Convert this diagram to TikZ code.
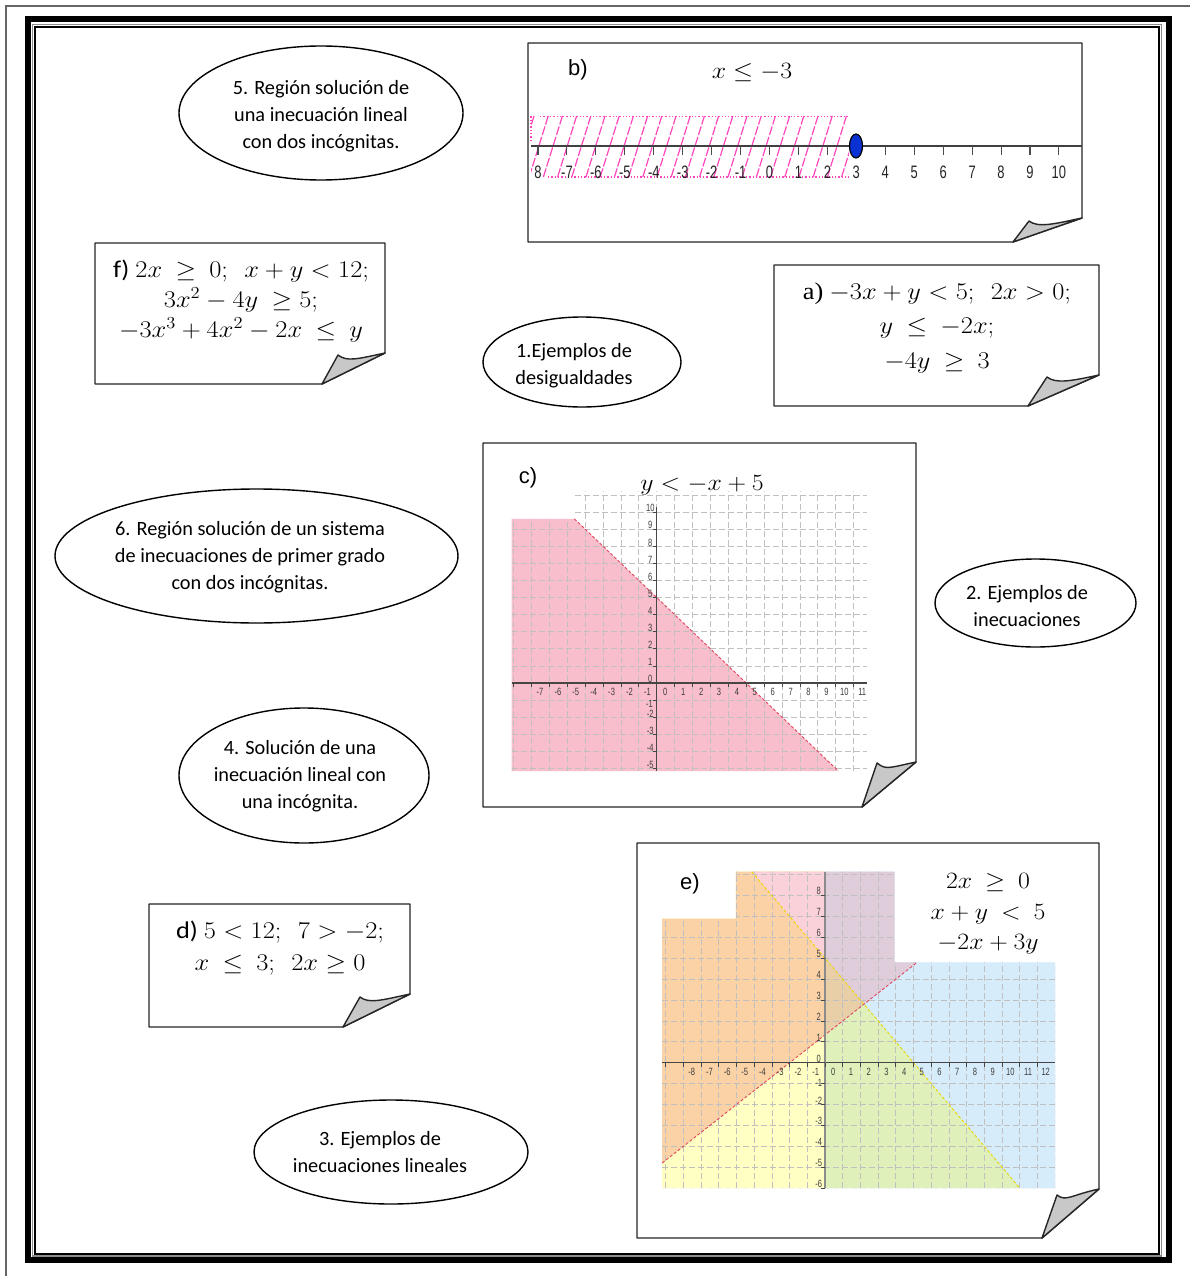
\RequirePackage{fix-cm}
\documentclass[tikz,border=0pt]{standalone}
\usepackage{graphicx}
\usepackage[no-math]{fontspec}
\setmainfont{Carlito}
\newfontfamily\arialf{Liberation Sans}
\newfontfamily\narrowf[FakeStretch=0.72]{Liberation Sans}
\newfontfamily\cambf{Liberation Serif}
\usetikzlibrary{shapes.geometric,calc}

\definecolor{pinkc}{RGB}{248,190,204}
\definecolor{redln}{RGB}{225,70,95}
\definecolor{gridc}{RGB}{192,192,192}
\definecolor{axisc}{RGB}{70,70,70}
\definecolor{labc}{RGB}{60,60,60}
\definecolor{hatchc}{RGB}{255,70,190}
\definecolor{dotblue}{RGB}{10,50,210}
\definecolor{foldgray}{RGB}{200,200,200}
\definecolor{pinkE}{RGB}{251,209,217}
\definecolor{orangeE}{RGB}{251,210,165}
\definecolor{yellowE}{RGB}{255,255,196}
\definecolor{mauveE}{RGB}{223,205,219}
\definecolor{blueE}{RGB}{214,236,250}
\definecolor{greenE}{RGB}{223,240,186}
\definecolor{tanE}{RGB}{232,207,168}
\definecolor{yellowln}{RGB}{235,215,0}

\newcommand\foldbox[8]{% L T R B Bf Rf tipx tipy
  \fill[white] (#1,#2) -- (#3,#2) -- (#3,#6) -- (#5,#4) -- (#1,#4) -- cycle;
  \draw[boxline] (#1,#2) -- (#3,#2) -- (#3,#6) -- (#5,#4) -- (#1,#4) -- cycle;
  \draw[boxline,fill=foldgray] (#5,#4) -- (#7,#8) .. controls ($(#7,#8)+(9,7)$) and ($(#3,#6)+(-28,6)$) .. (#3,#6) -- cycle;
}
\newcommand\widelines[1]{\scalebox{1.1}[1]{\begin{tabular}{@{}c@{}}#1\end{tabular}}}

\begin{document}
\begin{tikzpicture}[x=1pt,y=-1pt,
  boxline/.style={draw=black!85,line width=1.4pt,line join=round},
  bubble/.style={draw=black,line width=1.4pt,ellipse,inner sep=0pt},
  bubtext/.style={align=center,font=\fontsize{20.3}{27}\selectfont,inner sep=0pt},
  mtext/.style={inner sep=0pt},
  lbl/.style={font=\arialf\fontsize{22}{26}\selectfont,inner sep=0pt},
  ticklab/.style={font=\narrowf\fontsize{10.5}{11}\selectfont,text=labc,inner sep=0pt},
  nlab/.style={font=\narrowf\fontsize{18}{20}\selectfont,text=black!85,inner sep=0pt},
  gridl/.style={draw=gridc,line width=0.7pt,dash pattern=on 6pt off 3pt},
]
\fill[white] (0,0) rectangle (1190,1276);
\useasboundingbox (0,0) rectangle (1190,1276);

% ---- frame ----
\draw[black!60,line width=2pt] (6,1276) -- (6,6) -- (1190,6);
\draw[black,line width=6pt] (28,19) rectangle (1169,1260);
\draw[black!45,line width=1.2pt] (32.5,24.3) rectangle (1161.8,1256);
\draw[black,line width=2pt] (35,27) rectangle (1159.3,1253.7);

% ---- note boxes ----
\foldbox{528}{43}{1082}{242}{1013}{218}{1029}{221}
\foldbox{95}{243}{385}{384}{322}{353}{338}{355}
\foldbox{774}{265}{1099}{406}{1028}{375}{1047}{377}
\foldbox{483}{443}{916}{807}{862}{762}{877}{763}
\foldbox{149}{904}{410}{1027}{343}{994}{360}{997}
\foldbox{637}{843}{1099}{1238}{1042}{1189}{1057}{1195}

% ---- box b: number line ----
\node[lbl] (blab) at (578,70) {b)};
\node[mtext,font=\fontsize{23.4}{28}\selectfont] (bineq) at (752,73) {\widelines{$x\leq -3$}};
\begin{scope}
  \clip (531,116) rectangle (849,177.5);
  \foreach \i in {0,...,24}
    \draw[hatchc,line width=1.2pt,dash pattern=on 9pt off 2pt] (515+\i*14.2,177) -- ++(19,-61);
\end{scope}
\draw[hatchc,line width=1.3pt,dotted] (540,116.5) -- (849,116.5);
\draw[hatchc,line width=1.3pt,dotted] (548,177) -- (849,177);
\draw[hatchc,line width=1.3pt,dotted] (531,116.5) -- (531,140);
\draw[black!75,line width=2.6pt] (531,146) -- (1082,146);
\foreach \lab [count=\n from 0] in {8,-7,-6,-5,-4,-3,-2,-1,0,1,2,3,4,5,6,7,8,9,10}{
  \draw[black!70,line width=1.1pt] (538+\n*28.94,146) -- (538+\n*28.94,155);
  \node[nlab] (nl\n) at (538+\n*28.94,172.5) {\lab};
}
\node[draw=black,line width=1.2pt,fill=dotblue,ellipse,minimum width=13pt,minimum height=24pt,inner sep=0pt] (bdot) at (856,146) {};

% ---- box c: graph ----
\node[lbl] (clab) at (528,478) {c)};
\node[mtext,font=\fontsize{23.4}{28}\selectfont] (cineq) at (702,485) {\widelines{$y<-x+5$}};
\begin{scope}[shift={(656.7,683)},x=17.9pt,y=17.1pt]
  \fill[pinkc] (-8.1,9.6) -- (-4.6,9.6) -- (10.15,-5.15) -- (-8.1,-5.15) -- cycle;
  \begin{scope}
    \clip (-8.1,-5.15) -- (11.75,-5.15) -- (11.75,11.2) -- (-4.6,11.2) -- (-4.6,9.6) -- (-8.1,9.6) -- cycle;
    \foreach \i in {-8,...,11} \draw[gridl] (\i,-5.15) -- (\i,11.2);
    \foreach \j in {-5,...,11} \draw[gridl] (-8.1,\j) -- (11.75,\j);
  \end{scope}
  \draw[redln,line width=0.9pt,dash pattern=on 3pt off 2pt] (-4.6,9.6) -- (10.15,-5.15);
  \draw[axisc,line width=1.1pt] (-8.1,0) -- (11.75,0);
  \draw[axisc,line width=1.1pt] (0,-5.15) -- (0,10.3);
  \foreach \i in {-8,...,11} \draw[axisc,line width=0.7pt] (\i,0) -- (\i,-0.25);
  \foreach \j in {-5,...,10} \draw[axisc,line width=0.7pt] (0,\j) -- (-0.2,\j);
  \foreach \k [count=\n] in {-7,...,11} \node[ticklab] (cx\n) at (\k+0.48,-0.54) {\k};
  \foreach \k [count=\n] in {-5,-4,-3,-2} \node[ticklab] (cy\n) at (-0.36,\k+0.22) {\k};
  \node[ticklab] (cym1) at (-0.4,-1.25) {-1};
  \foreach \k [count=\n] in {0,...,10} \node[ticklab] (cyp\n) at (-0.36,\k+0.22) {\k};
\end{scope}

% ---- box e: graph ----
\node[lbl] (elab) at (690,884) {e)};
\node[mtext,font=\fontsize{23.4}{30.5}\selectfont] (eineq) at (988,913) {\widelines{$2x\ \geq\ 0$\\ $x+y\ <\ 5$\\ $-2x+3y$}};
\begin{scope}[shift={(825,1062.7)},x=17.7pt,y=20.9pt]
  \begin{scope}
    \clip (-9.2,-6) -- (13,-6) -- (13,4.8) -- (3.93,4.8) -- (3.93,9.14) -- (-5.03,9.14) -- (-5.03,6.9) -- (-9.2,6.9) -- cycle;
    \fill[yellowE] (-10,-7) rectangle (0,10);
    \fill[orangeE] (-10,-5.3333) -- (0,1.3333) -- (0,10) -- (-10,10) -- cycle;
    \fill[pinkE] (-5,10) -- (0,5) -- (0,10) -- cycle;
    \fill[blueE] (0,-7) rectangle (14,10);
    \fill[greenE] (0,-7) -- (0,5) -- (12,-7) -- cycle;
    \fill[mauveE] (0,1.3333) -- (14,10.6667) -- (0,10.6667) -- cycle;
    \fill[tanE] (0,1.3333) -- (2.2,2.8) -- (0,5) -- cycle;
    \foreach \i in {-9,...,13} \draw[gridl] (\i,-6) -- (\i,9.2);
    \foreach \j in {-6,...,9} \draw[gridl] (-9.2,\j) -- (13,\j);
  \end{scope}
  \draw[redln,line width=0.9pt,dash pattern=on 3pt off 2pt] (-9.2,-4.8) -- (5.2,4.8);
  \draw[yellowln,line width=0.9pt,dash pattern=on 3pt off 2pt] (-4.14,9.14) -- (11,-6);
  \draw[axisc,line width=1.1pt] (-9.2,0) -- (13,0);
  \draw[black!45,line width=1.1pt] (0,-6) -- (0,9.14);
  \foreach \i in {-9,...,12} \draw[axisc,line width=0.7pt] (\i,0) -- (\i,-0.22);
  \foreach \j in {-6,...,8} \draw[axisc,line width=0.7pt] (0,\j) -- (-0.2,\j);
  \foreach \k [count=\n] in {-8,...,12} \node[ticklab] (ex\n) at (\k+0.47,-0.46) {\k};
  \foreach \k [count=\n] in {-6,...,-2} \node[ticklab] (ey\n) at (-0.36,\k+0.2) {\k};
  \node[ticklab] (eym1) at (-0.36,-0.95) {-1};
  \foreach \k [count=\n] in {0,...,8} \node[ticklab] (eyp\n) at (-0.36,\k+0.2) {\k};
\end{scope}

% ---- boxes f, a, d ----
\node[mtext,font=\fontsize{24}{30}\selectfont] (ftext) at (241,301) {\widelines{f) $2x\ \geq\ 0;\ \ x+y<12;$\\ $3x^2-4y\ \geq 5;$\\ $-3x^3+4x^2-2x\ \leq\ y$}};
\node[mtext,font=\fontsize{24}{34.5}\selectfont] (atext) at (937,327) {\widelines{{\cambf a)}\ $-3x+y<5;\ \ 2x>0;$\\ $y\ \leq\ -2x;$\\ $-4y\ \geq\ 3$}};
\node[mtext,font=\fontsize{24}{32}\selectfont] (dtext) at (280,948) {\widelines{d) $5<12;\ \ 7>-2;$\\ $x\ \leq\ 3;\ \ 2x\geq 0$}};

% ---- ellipses ----
\node[bubble,minimum width=284pt,minimum height=134pt] (e5) at (321,113) {};
\node[bubtext] (t5) at (321,116) {5. Región solución de\\una inecuación lineal\\con dos incógnitas.};
\node[bubble,minimum width=198pt,minimum height=90pt] (e1) at (582,362) {};
\node[bubtext] (t1) at (574,366) {1.Ejemplos de\\desigualdades};
\node[bubble,minimum width=403pt,minimum height=134pt] (e6) at (256.5,556) {};
\node[bubtext] (t6) at (250,557) {6. Región solución de un sistema\\de inecuaciones de primer grado\\con dos incógnitas.};
\node[bubble,minimum width=201pt,minimum height=88pt] (e2) at (1035.5,603) {};
\node[bubtext] (t2) at (1027,606.5) {2. Ejemplos de\\inecuaciones};
\node[bubble,minimum width=250pt,minimum height=135pt] (e4) at (304,775.5) {};
\node[bubtext] (t4) at (300,776.5) {4. Solución de una\\inecuación lineal con\\una incógnita.};
\node[bubble,minimum width=274pt,minimum height=104pt] (e3) at (391,1152) {};
\node[bubtext] (t3) at (380,1152) {3. Ejemplos de\\inecuaciones lineales};
\end{tikzpicture}
\end{document}
